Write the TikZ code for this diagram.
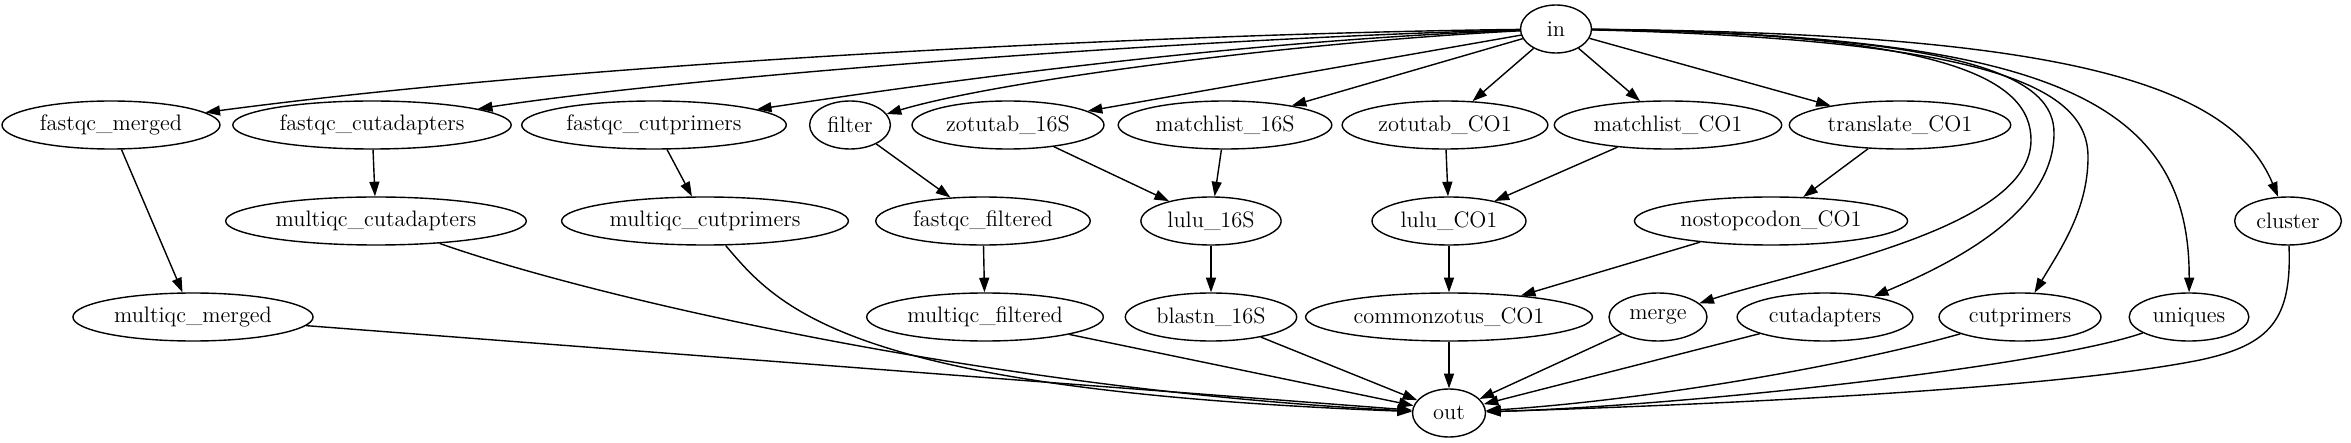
\documentclass[tikz,border=0pt]{standalone}
\usetikzlibrary{arrows.meta,shapes.geometric}
\tikzset{
  job/.style={draw, ellipse, line width=0.7pt, minimum height=24pt,
    inner xsep=3pt, inner ysep=0pt, font=\fontsize{11.2}{13}\selectfont},
  flow/.style={-{Triangle[length=7.3pt,width=5pt]}, line width=0.7pt},
}
\begin{document}
\begin{tikzpicture}[x=0.5pt,y=-0.5pt]
\useasboundingbox (0,0) rectangle (2351,443);
% source and sink
\node[job, minimum width=35.5pt] (in) at (1556,29) {in};
\node[job, minimum width=36.5pt] (out) at (1449,413) {out};
% row 1
\node[job] (fqmerged) at (111,125) {fastqc\_merged};
\node[job] (fqcutadapt) at (372,125) {fastqc\_cutadapters};
\node[job] (fqcutprim) at (654,125) {fastqc\_cutprimers};
\node[job] (filter) at (850,125) {filter};
\node[job] (zot16S) at (1008,125) {zotutab\_16S};
\node[job] (match16S) at (1225,125) {matchlist\_16S};
\node[job] (zotCO1) at (1445,125) {zotutab\_CO1};
\node[job] (matchCO1) at (1668,125) {matchlist\_CO1};
\node[job] (transCO1) at (1900,125) {translate\_CO1};
% row 2
\node[job] (mqcutadapt) at (376,221) {multiqc\_cutadapters};
\node[job] (mqcutprim) at (705,221) {multiqc\_cutprimers};
\node[job] (fqfiltered) at (983,221) {fastqc\_filtered};
\node[job] (lulu16S) at (1211,221) {lulu\_16S};
\node[job] (luluCO1) at (1449,221) {lulu\_CO1};
\node[job] (nostopCO1) at (1771,221) {nostopcodon\_CO1};
\node[job] (cluster) at (2288,221) {cluster};
% row 3
\node[job] (mqmerged) at (193,317) {multiqc\_merged};
\node[job] (mqfiltered) at (985,317) {multiqc\_filtered};
\node[job] (blast16S) at (1211,317) {blastn\_16S};
\node[job] (commonCO1) at (1449,317) {commonzotus\_CO1};
\node[job] (merge) at (1658,317) {merge};
\node[job] (cutadapt) at (1825,317) {cutadapters};
\node[job] (cutprim) at (2020,317) {cutprimers};
\node[job] (uniques) at (2189,317) {uniques};

% from in, to the left
\draw[flow] (in) .. controls (1200,33) and (600,60) .. (fqmerged);
\draw[flow] (in) .. controls (1200,38) and (700,75) .. (fqcutadapt);
\draw[flow] (in) .. controls (1250,40) and (950,80) .. (fqcutprim);
\draw[flow] (in) .. controls (1300,42) and (1000,80) .. (filter);
\draw[flow] (in) -- (zot16S);
\draw[flow] (in) -- (match16S);
\draw[flow] (in) -- (zotCO1);
\draw[flow] (in) -- (matchCO1);
\draw[flow] (in) -- (transCO1);
% from in, to the right
\draw[flow] (in) .. controls (1950,33) and (2031,80) .. (2031,140)
  .. controls (2031,230) and (1800,270) .. (merge);
\draw[flow] (in) .. controls (1980,35) and (2054,80) .. (2054,133)
  .. controls (2054,210) and (1960,260) .. (cutadapt);
\draw[flow] (in) .. controls (2000,40) and (2088,90) .. (2088,157)
  .. controls (2088,210) and (2060,250) .. (cutprim);
\draw[flow] (in) .. controls (2050,35) and (2190,100) .. (uniques);
\draw[flow] (in) .. controls (2050,33) and (2230,80) .. (cluster);

% middle steps
\draw[flow] (fqmerged) -- (mqmerged);
\draw[flow] (fqcutadapt) -- (mqcutadapt);
\draw[flow] (fqcutprim) -- (mqcutprim);
\draw[flow] (filter) -- (fqfiltered);
\draw[flow] (fqfiltered) -- (mqfiltered);
\draw[flow] (zot16S) -- (lulu16S);
\draw[flow] (match16S) -- (lulu16S);
\draw[flow] (lulu16S) -- (blast16S);
\draw[flow] (zotCO1) -- (luluCO1);
\draw[flow] (matchCO1) -- (luluCO1);
\draw[flow] (luluCO1) -- (commonCO1);
\draw[flow] (transCO1) -- (nostopCO1);
\draw[flow] (nostopCO1) -- (commonCO1);

% into out
\draw[flow] (mqmerged) -- (out);
\draw[flow] (mqcutadapt) .. controls (600,300) and (1000,390) .. (out);
\draw[flow] (mqcutprim) .. controls (780,310) and (850,390) .. (out);
\draw[flow] (mqfiltered) -- (out);
\draw[flow] (blast16S) -- (out);
\draw[flow] (commonCO1) -- (out);
\draw[flow] (merge) -- (out);
\draw[flow] (cutadapt) -- (out);
\draw[flow] (cutprim) .. controls (1850,365) and (1650,400) .. (out);
\draw[flow] (uniques) .. controls (2050,365) and (1700,405) .. (out);
\draw[flow] (cluster) .. controls (2292,320) and (2270,345) .. (2200,360)
  .. controls (2050,390) and (1700,405) .. (out);
\end{tikzpicture}
\end{document}
